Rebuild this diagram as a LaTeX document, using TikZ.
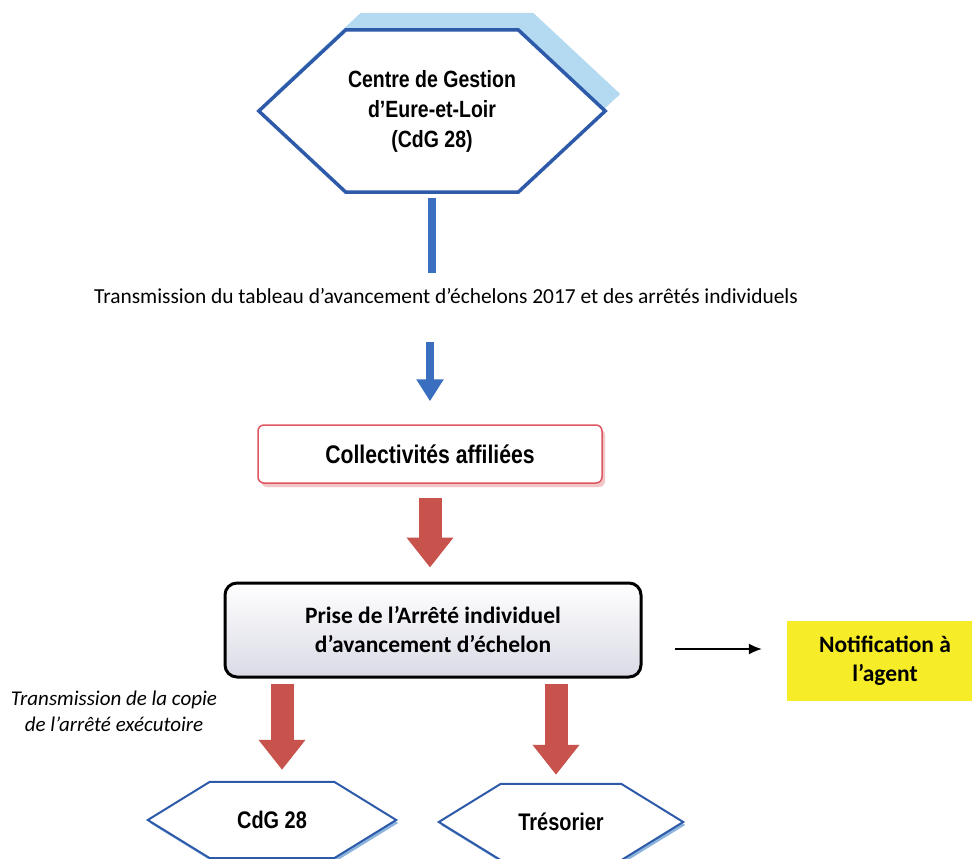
\documentclass[tikz,border=0pt]{standalone}
\usepackage{fontspec}
\setmainfont{Carlito}
\newfontfamily\narrowsans[FakeStretch=0.83]{Liberation Sans}
\usetikzlibrary{
    arrows.meta,
    shadows, % drop shadow of the red box
    positioning
}
\definecolor{hexblue}{RGB}{46,90,170}
\definecolor{hexshade}{RGB}{180,218,242}
\definecolor{flowblue}{RGB}{58,110,190}
\definecolor{boxred}{RGB}{222,86,96}
\definecolor{shadered}{RGB}{226,142,142}
\definecolor{flowred}{RGB}{200,82,76}
\definecolor{notifyellow}{RGB}{246,236,40}
\definecolor{prisegrey}{RGB}{218,218,230}
% hexagon round a node: its box plus two points
\newcommand\hexaround[2]{(#1.north west) -- (#1.north east) -- ([xshift=#2]#1.east)
    -- (#1.south east) -- (#1.south west) -- ([xshift=-#2]#1.west) -- cycle}

\begin{document}
\begin{tikzpicture}[x=1pt,y=-1pt,
    hexbox/.style={inner sep=0pt,align=center,font=\narrowsans\bfseries\fontsize{24}{30}\selectfont},
    hexline/.style={draw=hexblue,fill=white,line width=#1,line join=miter},
    redarrow/.style={line width=23pt,flowred,-{Triangle[length=30pt,width=45pt]}},
    blueline/.style={line width=8pt,flowblue}]
    \useasboundingbox (0,0) rectangle (972,859);

    \node[hexbox,minimum width=172pt,minimum height=162pt] (top) at (432,111) {};
    \fill[hexshade,transform canvas={xshift=15pt,yshift=17pt}] \hexaround{top}{87pt};
    \draw[hexline=3.5pt] \hexaround{top}{87pt};
    \node[hexbox,font=\narrowsans\bfseries\fontsize{23.5}{30}\selectfont] at (top)
          {Centre de Gestion\\d’Eure-et-Loir\\(CdG 28)};

    \node[inner sep=0pt,font=\fontsize{21.4}{24}\selectfont] (trans) at (446,296)
        {Transmission du tableau d’avancement d’échelons 2017 et des arrêtés individuels};

    \node[draw=boxred,line width=1.5pt,rounded corners=6pt,fill=white,
          minimum width=344pt,minimum height=58pt,
          drop shadow={shadow xshift=3pt,shadow yshift=-4pt,fill=shadered},
          font=\narrowsans\bfseries\fontsize{25.5}{30}\selectfont] (coll) at (430,454)
          {Collectivités affiliées};

    \node[draw=black,line width=3pt,rounded corners=12pt,top color=white,bottom color=prisegrey,
          minimum width=416pt,minimum height=94pt,align=center,
          font=\bfseries\fontsize{23.5}{29}\selectfont] (prise) at (433,630)
          {Prise de l’Arrêté individuel\\d’avancement d’échelon};

    \node[fill=notifyellow,minimum width=196pt,minimum height=80pt,align=center,
          font=\bfseries\fontsize{23.5}{29}\selectfont] (notif) at (885,661)
          {Notification à\\l’agent};

    \node[inner sep=0pt,align=center,font=\itshape\fontsize{21}{26}\selectfont] (copie) at (114,711)
          {Transmission de la copie\\de l’arrêté exécutoire};

    \node[hexbox,minimum width=124pt,minimum height=76pt] (cdgb) at (272,820) {};
    \node[hexbox,minimum width=120pt,minimum height=76pt] (treso) at (561,822) {};
    \foreach \n in {cdgb,treso} {
        \fill[hexshade!70!hexblue,transform canvas={xshift=2pt,yshift=-3pt}] \hexaround{\n}{62pt};
        \draw[hexline=2pt] \hexaround{\n}{62pt};
    }
    \node[hexbox] at (cdgb) {CdG 28};
    \node[hexbox] at (treso) {Trésorier};

    % connectors
    \draw[blueline,shorten >=15pt] ([yshift=-6pt]top.south) -- (top.south |- trans.north);
    \draw[blueline,-{Triangle[length=22pt,width=26pt]},shorten <=38pt,shorten >=23pt]
        (coll.north |- trans.south) -- (coll.north);
    \draw[redarrow,shorten <=14pt,shorten >=14pt] (coll.south) -- (coll.south |- prise.north);
    \draw[redarrow,shorten <=5pt,shorten >=12pt]
        ([xshift=10pt]cdgb.north |- prise.south) -- ([xshift=10pt]cdgb.north);
    \draw[redarrow,shorten <=5pt,shorten >=9pt]
        ([xshift=-5pt]treso.north |- prise.south) -- ([xshift=-5pt]treso.north);
    \draw[line width=1.3pt,-{Latex[length=13pt,width=11pt]}]
        ([shift={(32pt,-19pt)}]prise.east) -- ([shift={(-25pt,-19pt)}]prise.east -| notif.west);
\end{tikzpicture}
\end{document}
